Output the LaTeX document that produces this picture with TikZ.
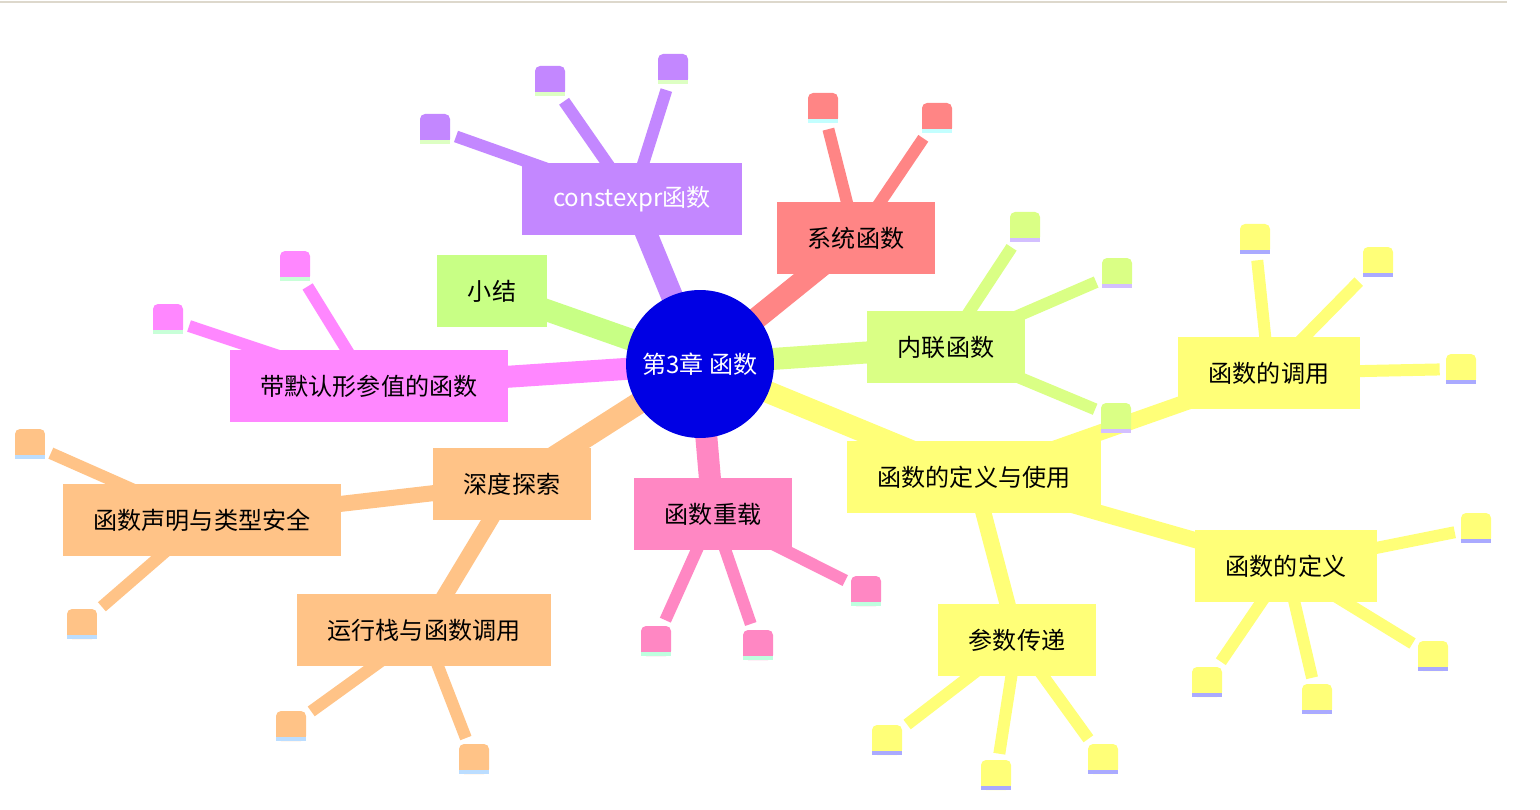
\documentclass[tikz,border=0pt]{standalone}
\usepackage{fontspec}
\setmainfont{Noto Sans CJK SC}
\usepackage{tikz}
\usetikzlibrary{backgrounds}
\definecolor{hubblue}{RGB}{0,0,228}
\definecolor{cpurple}{RGB}{195,135,255}
\definecolor{csalmon}{RGB}{255,133,133}
\definecolor{cgreen}{RGB}{200,255,133}
\definecolor{clime}{RGB}{218,255,133}
\definecolor{cmagenta}{RGB}{255,135,255}
\definecolor{corange}{RGB}{255,195,135}
\definecolor{cpink}{RGB}{255,135,195}
\definecolor{cyellow}{RGB}{255,255,120}
\definecolor{spurple}{RGB}{221,255,195}
\definecolor{ssalmon}{RGB}{195,255,255}
\definecolor{slime}{RGB}{211,191,255}
\definecolor{smagenta}{RGB}{200,255,216}
\definecolor{sorange}{RGB}{187,221,255}
\definecolor{spink}{RGB}{191,255,223}
\definecolor{syellow}{RGB}{170,170,255}
\definecolor{rulegray}{RGB}{221,216,204}
\newcommand\topicfont{\fontsize{13.7pt}{16pt}\selectfont}
\tikzset{
  topic/.style={rectangle,fill=#1,minimum height=1.44cm,inner xsep=0.62cm,inner ysep=0pt,font=\topicfont},
  leaf/.style 2 args={rectangle,minimum size=0.6cm,inner sep=0pt,
    path picture={
      \fill[#1,rounded corners=0.1cm] (path picture bounding box.south west) rectangle (path picture bounding box.north east);
      \fill[#1] (path picture bounding box.south west) rectangle ([yshift=-0.3cm]path picture bounding box.north east);
      \fill[#2] (path picture bounding box.south west) rectangle ([yshift=0.08cm]path picture bounding box.south east);
    }},
  trunk/.style={draw=#1,line width=0.44cm},
  bough/.style={draw=#1,line width=0.32cm},
  twig/.style={draw=#1,line width=0.24cm,shorten >=0.12cm},
}

\begin{document}
\begin{tikzpicture}[x=0.02cm,y=-0.02cm]
\useasboundingbox (0,0) rectangle (1540,810);
\coordinate (rl) at (0,2); \coordinate (rr) at (1507,2);
\draw[rulegray,line width=0.04cm] (rl) -- (rr);

\node[circle,fill=hubblue,minimum size=2.96cm,inner sep=0pt,text=white,font=\topicfont] (hub) at (700,364) {第3章 函数};
\node[topic=cpurple,text=white] (cexpr) at (632,199) {constexpr函数};
\node[topic=csalmon] (sys) at (856,238) {系统函数};
\node[topic=cgreen] (summ) at (492,291) {小结};
\node[topic=clime] (inl) at (946,347) {内联函数};
\node[topic=cmagenta] (dflt) at (369,386) {带默认形参值的函数};
\node[topic=corange] (deep) at (512,484) {深度探索};
\node[topic=cpink] (ovl) at (713,514) {函数重载};
\node[topic=cyellow] (defuse) at (974,477) {函数的定义与使用};
\node[topic=corange] (decl) at (202,520) {函数声明与类型安全};
\node[topic=corange] (stack) at (424,630) {运行栈与函数调用};
\node[topic=cyellow] (call) at (1269,373) {函数的调用};
\node[topic=cyellow] (def) at (1286,566) {函数的定义};
\node[topic=cyellow] (pass) at (1017,640) {参数传递};

\foreach \n/\x/\y in {cexpr1/435/129,cexpr2/550/81,cexpr3/673/69}
  \node[leaf={cpurple}{spurple}] (\n) at (\x,\y) {};
\foreach \n/\x/\y in {sys1/823/108,sys2/937/118}
  \node[leaf={csalmon}{ssalmon}] (\n) at (\x,\y) {};
\foreach \n/\x/\y in {inl1/1025/227,inl2/1117/273,inl3/1116/418}
  \node[leaf={clime}{slime}] (\n) at (\x,\y) {};
\foreach \n/\x/\y in {dflt1/295/266,dflt2/168/319}
  \node[leaf={cmagenta}{smagenta}] (\n) at (\x,\y) {};
\foreach \n/\x/\y in {decl1/30/444,decl2/82/624,stack1/291/726,stack2/474/759}
  \node[leaf={corange}{sorange}] (\n) at (\x,\y) {};
\foreach \n/\x/\y in {ovl1/656/641,ovl2/758/645,ovl3/866/591}
  \node[leaf={cpink}{spink}] (\n) at (\x,\y) {};
\foreach \n/\x/\y in {call1/1255/239,call2/1378/262,call3/1461/369,def1/1476/528,def2/1433/656,def3/1317/699,def4/1207/682,pass1/887/740,pass2/996/775,pass3/1103/759}
  \node[leaf={cyellow}{syellow}] (\n) at (\x,\y) {};

\begin{scope}[on background layer]
\foreach \t/\c in {cexpr/cpurple,sys/csalmon,summ/cgreen,inl/clime,dflt/cmagenta,deep/corange,ovl/cpink,defuse/cyellow}
  \draw[trunk=\c] (hub.center) -- (\t.center);
\foreach \p/\t/\c in {deep/decl/corange,deep/stack/corange,defuse/call/cyellow,defuse/def/cyellow,defuse/pass/cyellow}
  \draw[bough=\c] (\p.center) -- (\t.center);
\foreach \i in {1,2,3} \draw[twig=cpurple] (cexpr.center) -- (cexpr\i);
\foreach \i in {1,2} \draw[twig=csalmon] (sys.center) -- (sys\i);
\foreach \i in {1,2,3} \draw[twig=clime] (inl.center) -- (inl\i);
\foreach \i in {1,2} \draw[twig=cmagenta] (dflt.center) -- (dflt\i);
\foreach \i in {1,2} \draw[twig=corange] (decl.center) -- (decl\i);
\foreach \i in {1,2} \draw[twig=corange] (stack.center) -- (stack\i);
\foreach \i in {1,2,3} \draw[twig=cpink] (ovl.center) -- (ovl\i);
\foreach \i in {1,2,3} \draw[twig=cyellow] (call.center) -- (call\i);
\foreach \i in {1,2,3,4} \draw[twig=cyellow] (def.center) -- (def\i);
\foreach \i in {1,2,3} \draw[twig=cyellow] (pass.center) -- (pass\i);
\end{scope}
\end{tikzpicture}
\end{document}
